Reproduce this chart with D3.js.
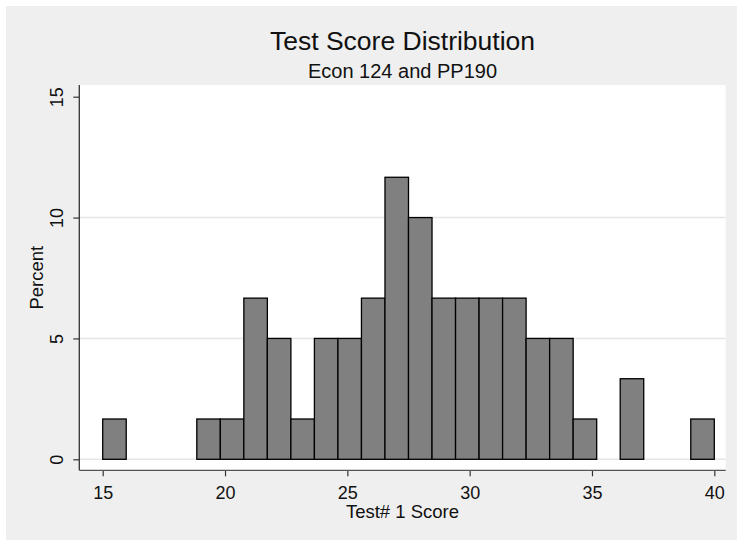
<!DOCTYPE html>
<html>
<head>
<meta charset="utf-8">
<script src="https://cdn.jsdelivr.net/npm/d3@7"></script>
<style>
  html, body { margin: 0; padding: 0; background: #ffffff; }
  svg { display: block; font-family: Arial, "Liberation Sans", Helvetica, sans-serif; }
</style>
</head>
<body>
<svg id="chart" width="737" height="540"></svg>
<script>
// ---- data ----
const binStart = 15;
const binEnd = 40;
const binCount = 26;
const percents = [1.667, 0, 0, 0, 1.667, 1.667, 6.667, 5, 1.667, 5, 5, 6.667, 11.667, 10,
                  6.667, 6.667, 6.667, 6.667, 5, 5, 1.667, 0, 3.333, 0, 0, 1.667];
const xTicks = [15, 20, 25, 30, 35, 40];
const yTicks = [0, 5, 10, 15];
const gridTicks = [0, 5, 10];
const titleText = "Test Score Distribution";
const subtitleText = "Econ 124 and PP190";
const xLabel = "Test# 1 Score";
const yLabel = "Percent";

// ---- layout ----
const W = 737, H = 540;
const plot = { left: 79.3, right: 725.7, top: 85, bottom: 470.3 };
const svg = d3.select("#chart");

svg.append("rect").attr("x", 0).attr("y", 0).attr("width", W).attr("height", H).attr("fill", "#ffffff");
svg.append("rect").attr("x", 6).attr("y", 6).attr("width", W - 6).attr("height", H - 6).attr("fill", "#efefef");
svg.append("rect").attr("x", plot.left).attr("y", plot.top)
  .attr("width", plot.right - plot.left).attr("height", plot.bottom - plot.top).attr("fill", "#ffffff");

const x = d3.scaleLinear().domain([15, 40]).range([102.7, 714.3]);
const y = d3.scaleLinear().domain([0, 15]).range([459.3, 96.7]);

// grid
svg.append("g").selectAll("line").data(gridTicks).join("line")
  .attr("x1", plot.left).attr("x2", plot.right)
  .attr("y1", d => y(d)).attr("y2", d => y(d))
  .attr("stroke", "#e6e6e6").attr("stroke-width", 1.6);

// bars
const bw = (binEnd - binStart) / binCount;
const bins = percents.map((p, i) => ({ x0: binStart + i * bw, x1: binStart + (i + 1) * bw, p }));
svg.append("g").selectAll("rect").data(bins.filter(b => b.p > 0)).join("rect")
  .attr("x", d => x(d.x0)).attr("width", d => x(d.x1) - x(d.x0))
  .attr("y", d => y(d.p)).attr("height", d => y(0) - y(d.p))
  .attr("fill", "#808080").attr("stroke", "#000").attr("stroke-width", 1.3);

// axes
const xAxis = d3.axisBottom(x).tickValues(xTicks).tickSize(6).tickPadding(10).tickFormat(d3.format("d"));
const gx = svg.append("g").attr("transform", `translate(0,${plot.bottom})`).call(xAxis);
gx.select(".domain").remove();
gx.selectAll(".tick line").attr("stroke", "#333").attr("stroke-width", 1.2);
gx.selectAll(".tick text").attr("font-size", 18).attr("fill", "#111")
  .attr("dy", null).attr("y", 28.3);

const yAxis = d3.axisLeft(y).tickValues(yTicks).tickSize(6).tickFormat(d3.format("d"));
const gy = svg.append("g").attr("transform", `translate(${plot.left},0)`).call(yAxis);
gy.select(".domain").remove();
gy.selectAll(".tick line").attr("stroke", "#333").attr("stroke-width", 1.2);
gy.selectAll(".tick text").attr("font-size", 18).attr("fill", "#111")
  .attr("transform", "rotate(-90)").attr("text-anchor", "middle")
  .attr("x", 0).attr("dy", null).attr("y", -16);

// axis lines
svg.append("line").attr("x1", plot.left).attr("x2", plot.right)
  .attr("y1", plot.bottom).attr("y2", plot.bottom).attr("stroke", "#555").attr("stroke-width", 1.3);
svg.append("line").attr("x1", plot.left).attr("x2", plot.left)
  .attr("y1", plot.top).attr("y2", plot.bottom).attr("stroke", "#333").attr("stroke-width", 1.3);

// titles
const cx = (plot.left + plot.right) / 2;
svg.append("text").attr("x", cx).attr("y", 50).attr("text-anchor", "middle")
  .attr("font-size", 26.5).attr("fill", "#111").text(titleText);
svg.append("text").attr("x", cx).attr("y", 77.7).attr("text-anchor", "middle")
  .attr("font-size", 20).attr("fill", "#111").text(subtitleText);
svg.append("text").attr("x", cx).attr("y", 518.3).attr("text-anchor", "middle")
  .attr("font-size", 18.5).attr("fill", "#111").text(xLabel);
svg.append("text").attr("transform", `translate(43.3,${(plot.top + plot.bottom) / 2}) rotate(-90)`)
  .attr("text-anchor", "middle").attr("font-size", 18.5).attr("fill", "#111").text(yLabel);
</script>
</body>
</html>
